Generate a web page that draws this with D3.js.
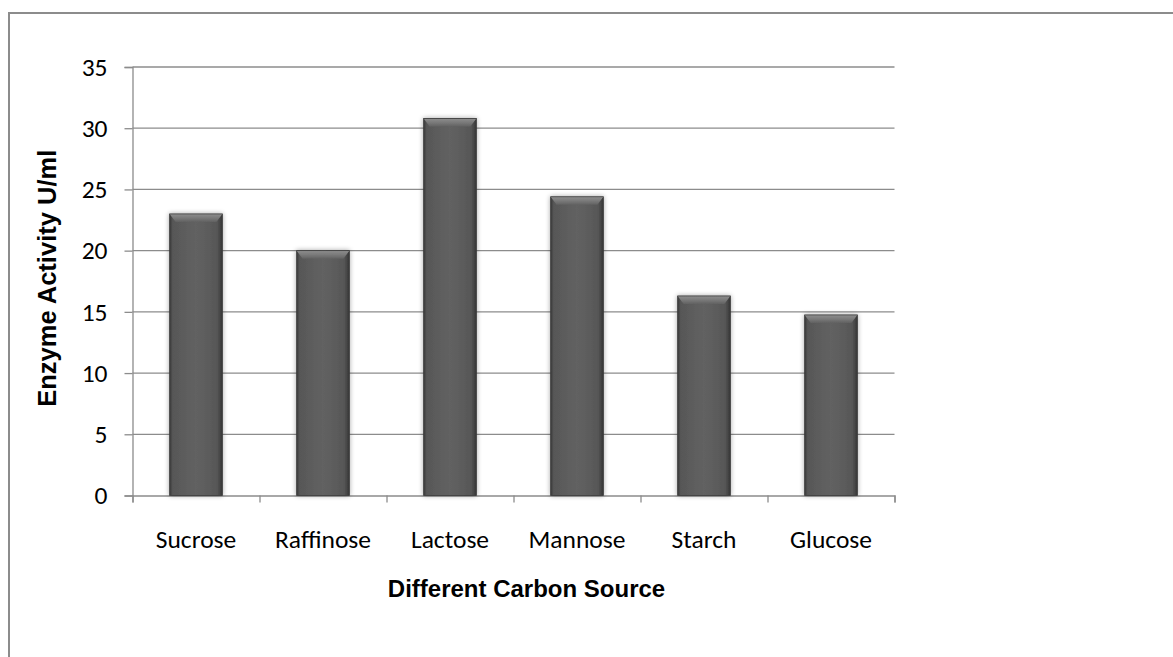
<!DOCTYPE html>
<html>
<head>
<meta charset="utf-8">
<script src="https://cdn.jsdelivr.net/npm/d3@7"></script>
<style>
  html, body { margin: 0; padding: 0; background: #fff; }
  svg { display: block; }
  .lbl { font-family: Carlito, Calibri, Lato, "Open Sans", sans-serif; font-size: 25.5px; fill: #000; }
  .axis-title { font-family: "Liberation Sans", Arial, sans-serif; font-weight: bold; fill: #000; }
</style>
</head>
<body>
<svg id="chart" width="1173" height="657"></svg>
<script>
// Enzyme activity for each carbon source
const categories = ["Sucrose", "Raffinose", "Lactose", "Mannose", "Starch", "Glucose"];
const activity = [23.0, 20.0, 30.8, 24.4, 16.3, 14.75];
const yTicks = [0, 5, 10, 15, 20, 25, 30, 35];

const W = 1173, H = 657;
const plot = { left: 132.5, right: 894.5, top: 67, bottom: 495.5 };

const svg = d3.select("#chart");

// Chart frame (only the top and left edges fall inside the page)
svg.append("rect")
  .attr("x", 9).attr("y", 13)
  .attr("width", W + 20).attr("height", H + 20)
  .attr("fill", "#fff").attr("stroke", "#8c8c8c").attr("stroke-width", 2);

const defs = svg.append("defs");
const body = defs.append("linearGradient").attr("id", "barBody")
  .attr("x1", 0).attr("x2", 1).attr("y1", 0).attr("y2", 0);
[[0, "#3c3c3c"], [0.06, "#575757"], [0.5, "#626262"], [0.9, "#575757"], [1, "#363636"]]
  .forEach(([o, c]) => body.append("stop").attr("offset", o).attr("stop-color", c));
const cap = defs.append("linearGradient").attr("id", "barCap")
  .attr("x1", 0).attr("x2", 0).attr("y1", 0).attr("y2", 1);
[[0, "#8e8e8e"], [0.5, "#7a7a7a"], [1, "#626262"]]
  .forEach(([o, c]) => cap.append("stop").attr("offset", o).attr("stop-color", c));
const shadow = defs.append("filter").attr("id", "barShadow")
  .attr("x", "-30%").attr("y", "-10%").attr("width", "160%").attr("height", "120%");
shadow.append("feGaussianBlur").attr("in", "SourceAlpha").attr("stdDeviation", 2.5).attr("result", "b");
shadow.append("feComponentTransfer").attr("in", "b").attr("result", "s")
  .append("feFuncA").attr("type", "linear").attr("slope", 0.35);
const merge = shadow.append("feMerge");
merge.append("feMergeNode").attr("in", "s");
merge.append("feMergeNode").attr("in", "SourceGraphic");

const x = d3.scaleBand().domain(categories).range([plot.left, plot.right]).paddingInner(0.585).paddingOuter(0.2925);
const xTickScale = d3.scaleLinear().domain([0, categories.length]).range([plot.left, plot.right]);
const y = d3.scaleLinear().domain([0, 35]).range([plot.bottom, plot.top]);

// Horizontal gridlines
svg.append("g").selectAll("line").data(yTicks.filter(d => d > 0)).join("line")
  .attr("x1", plot.left).attr("x2", plot.right)
  .attr("y1", d => y(d)).attr("y2", d => y(d))
  .attr("stroke", "#8c8c8c").attr("stroke-width", 1.3);

// Y axis
const yAxis = svg.append("g").attr("transform", `translate(${plot.left},0)`)
  .call(d3.axisLeft(y).tickValues(yTicks).tickSize(8).tickPadding(17).tickFormat(d3.format("d")));
yAxis.attr("font-size", null).attr("font-family", null);
yAxis.selectAll(".tick text").attr("class", "lbl");
yAxis.select(".domain").attr("stroke", "#8c8c8c").attr("stroke-width", 1.3);
yAxis.selectAll(".tick line").attr("stroke", "#8c8c8c").attr("stroke-width", 1.3);

// X axis: ticks sit on category boundaries
const xAxis = svg.append("g").attr("transform", `translate(0,${plot.bottom})`)
  .call(d3.axisBottom(xTickScale).tickValues(d3.range(categories.length + 1)).tickSize(7).tickFormat(""));
xAxis.select(".domain").attr("stroke", "#8c8c8c").attr("stroke-width", 1.3);
xAxis.selectAll(".tick line").attr("stroke", "#8c8c8c").attr("stroke-width", 1.3);

svg.append("g").selectAll("text").data(categories).join("text")
  .attr("class", "lbl")
  .attr("x", d => x(d) + x.bandwidth() / 2).attr("y", 548)
  .attr("text-anchor", "middle").text(d => d);

// Bars with a bevelled top
const bw = x.bandwidth();
const bars = svg.append("g").selectAll("g").data(categories.map((c, i) => ({ c, v: activity[i] }))).join("g")
  .attr("filter", "url(#barShadow)");
bars.append("rect")
  .attr("x", d => x(d.c)).attr("y", d => y(d.v))
  .attr("width", bw).attr("height", d => y(0) - y(d.v))
  .attr("fill", "url(#barBody)");
bars.append("path")
  .attr("d", d => {
    const x0 = x(d.c), x1 = x0 + bw, t = y(d.v), inset = 6, h = 8;
    return `M${x0},${t}L${x1},${t}L${x1 - inset},${t + h}L${x0 + inset},${t + h}Z`;
  })
  .attr("fill", "url(#barCap)");
bars.append("rect")
  .attr("x", d => x(d.c)).attr("y", d => y(d.v))
  .attr("width", bw).attr("height", d => y(0) - y(d.v))
  .attr("fill", "none").attr("stroke", "#3a3a3a").attr("stroke-width", 0.8);

// Axis titles
svg.append("text").attr("class", "axis-title")
  .attr("x", (plot.left + plot.right) / 2 + 13).attr("y", 597)
  .attr("font-size", 24)
  .attr("text-anchor", "middle").text("Different Carbon Source");
svg.append("text").attr("class", "axis-title")
  .attr("transform", `translate(56,${(plot.top + plot.bottom) / 2 - 3}) rotate(-90)`)
  .attr("font-size", 25.5)
  .attr("text-anchor", "middle").text("Enzyme Activity U/ml");
</script>
</body>
</html>
